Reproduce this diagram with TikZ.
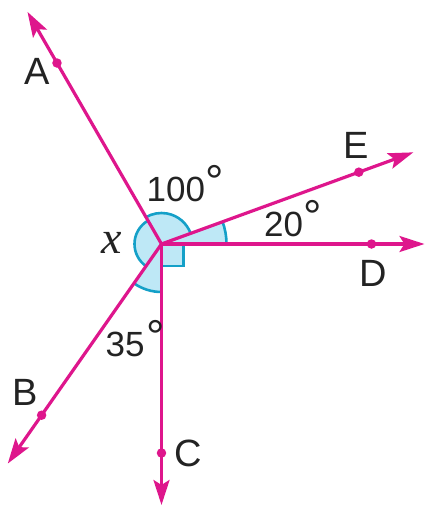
\documentclass[tikz,border=0pt]{standalone}
\usepackage{fontspec}
\setmainfont{Liberation Sans}
\newfontfamily\serifit{Liberation Serif}
\usetikzlibrary{arrows.meta}
\definecolor{ray}{RGB}{222,22,140}
\definecolor{arcedge}{RGB}{20,160,200}
\definecolor{arcfill}{RGB}{190,232,246}
\definecolor{txt}{RGB}{35,35,35}
\newcommand{\dg}{\raisebox{4pt}{\fontsize{46}{46}\selectfont °}}
\begin{document}
\begin{tikzpicture}[x=1pt,y=1pt,
  rayline/.style={draw=ray,line width=3.2pt,-{Stealth[length=25pt,width=16pt,inset=5pt]}},
  dotnode/.style={circle,fill=ray,inner sep=0pt,minimum size=9.5pt},
  sector/.style={fill=arcfill},
  arcstroke/.style={draw=arcedge,line width=2.6pt},
  lbl/.style={text=txt,font=\fontsize{38}{38}\selectfont,inner sep=0pt,anchor=center},
  deglbl/.style={text=txt,font=\fontsize{35}{35}\selectfont,inner sep=0pt,anchor=base west}]
\useasboundingbox (-161.5,-263) rectangle (265.5,244);
\coordinate (O) at (0,0);
% sectors
\fill[sector] (O) -- (20:31) arc[start angle=20,end angle=120,radius=31] -- cycle;
\fill[sector] (O) -- (120:27) arc[start angle=120,end angle=235,radius=27] -- cycle;
\fill[sector] (O) -- (235:48) arc[start angle=235,end angle=270,radius=48] -- cycle;
\fill[sector] (O) -- (0:65) arc[start angle=0,end angle=20,radius=65] -- cycle;
\fill[sector] (O) rectangle (22,-22);
\draw[arcstroke] (20:31) arc[start angle=20,end angle=120,radius=31];
\draw[arcstroke] (120:27) arc[start angle=120,end angle=235,radius=27];
\draw[arcstroke] (235:48) arc[start angle=235,end angle=270,radius=48];
\draw[arcstroke] (0:65) arc[start angle=0,end angle=20,radius=65];
\draw[arcstroke] (22,0) -- (22,-22) -- (0,-22);
% ray ends
\coordinate (Atip) at (120:268);
\coordinate (Etip) at (20:268);
\coordinate (Dtip) at (0:263);
\coordinate (Btip) at (235:268);
\coordinate (Ctip) at (270:261);
\draw[rayline] (O) -- (Atip);
\draw[rayline] (O) -- (Etip);
\draw[rayline] (O) -- (Dtip);
\draw[rayline] (O) -- (Btip);
\draw[rayline] (O) -- (Ctip);
% dots
\node[dotnode] (Adot) at (120:209) {};
\node[dotnode] (Edot) at (20:210) {};
\node[dotnode] (Ddot) at (0:210) {};
\node[dotnode] (Bdot) at (235:209) {};
\node[dotnode] (Cdot) at (270:209) {};
% labels
\node[lbl] (Alab) at (-124,173) {A};
\node[lbl] (Blab) at (-136.5,-148) {B};
\node[lbl] (Clab) at (26.5,-209) {C};
\node[lbl] (Dlab) at (212,-29) {D};
\node[lbl] (Elab) at (195,99) {E};
\node[inner sep=0pt,anchor=center,text=txt,font=\serifit\itshape\fontsize{46}{46}\selectfont] (xlab) at (-49.5,1) {x};
\node[deglbl] (a100) at (-15,42.3) {100\dg};
\node[deglbl] (a20) at (102.5,7.3) {20\dg};
\node[deglbl] (a35) at (-56,-112.7) {35\kern1.5pt\dg};
\end{tikzpicture}
\end{document}
